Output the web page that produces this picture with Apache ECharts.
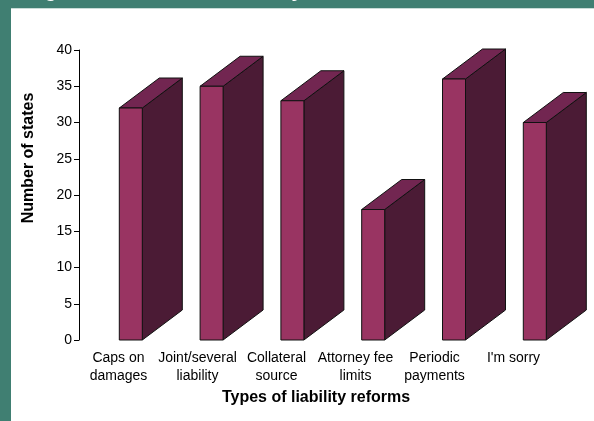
<!DOCTYPE html>
<html>
<head>
<meta charset="utf-8">
<script src="https://cdn.jsdelivr.net/npm/echarts@6/dist/echarts.min.js"></script>
<style>html,body{margin:0;padding:0;background:#fff}#c{width:594px;height:421px}</style>
</head>
<body>
<div id="c"></div>
<script>
const categories = ['Caps on\ndamages', 'Joint/several\nliability', 'Collateral\nsource', 'Attorney fee\nlimits', 'Periodic\npayments', "I'm sorry"];
const states = [32, 35, 33, 18, 36, 30];
const yTicks = { min: 0, max: 40, interval: 5 };
const titleText = 'Figure 1. States with Liability Reforms';
const xName = 'Types of liability reforms';
const yName = 'Number of states';

const FONT = 'Liberation Sans, Arial, Helvetica, sans-serif';
const FRONT_W = 23, DX = 40, DY = 30;

const chart = echarts.init(document.getElementById('c'), null, { renderer: 'canvas' });

function renderBar(params, api) {
  const top = api.coord([api.value(0), api.value(1)]);
  const base = api.coord([api.value(0), 0]);
  const x0 = top[0] - FRONT_W / 2, x1 = top[0] + FRONT_W / 2;
  const yt = top[1], yb = base[1];
  const stroke = { stroke: '#111', lineWidth: 1 };
  return {
    type: 'group',
    children: [
      { type: 'polygon', shape: { points: [[x1, yt], [x1 + DX, yt - DY], [x1 + DX, yb - DY], [x1, yb]] },
        style: Object.assign({ fill: '#4b1b35' }, stroke) },
      { type: 'polygon', shape: { points: [[x0, yt], [x0 + DX, yt - DY], [x1 + DX, yt - DY], [x1, yt]] },
        style: Object.assign({ fill: '#722651' }, stroke) },
      { type: 'rect', shape: { x: x0, y: yt, width: FRONT_W, height: yb - yt },
        style: Object.assign({ fill: '#993462' }, stroke) }
    ]
  };
}

chart.setOption({
  animation: false,
  backgroundColor: '#407f72',
  graphic: [
    { type: 'rect', z: -10, shape: { x: 11, y: 8, width: 600, height: 1 }, style: { fill: '#c9dcd7' } },
    { type: 'rect', z: -10, shape: { x: 11, y: 9, width: 600, height: 420 }, style: { fill: '#ffffff' } },
    { type: 'text', z: 10, x: 27, y: 1, style: { text: titleText, fill: '#ffffff', font: 'bold 20px ' + FONT, verticalAlign: 'bottom', align: 'left' } },
    { type: 'text', z: 10, x: 29, y: 158, rotation: Math.PI / 2,
      style: { text: yName, fill: '#000', font: 'bold 16px ' + FONT, align: 'center', verticalAlign: 'middle' } }
  ],
  grid: [
    { left: 79, top: 50, width: 474, height: 290 },
    { left: 90.4, top: 50, width: 484.8, height: 290 }
  ],
  xAxis: [
    {
      gridIndex: 0, type: 'category', data: categories,
      axisLine: { show: false }, axisTick: { show: false },
      axisLabel: { interval: 0, fontSize: 14, lineHeight: 18, margin: 9, color: '#000', fontFamily: FONT },
      name: xName, nameLocation: 'middle', nameGap: 50,
      nameTextStyle: { fontSize: 16, fontWeight: 'bold', color: '#000', fontFamily: FONT }
    },
    { gridIndex: 1, type: 'category', data: categories, show: false }
  ],
  yAxis: [
    {
      gridIndex: 0, type: 'value', min: yTicks.min, max: yTicks.max, interval: yTicks.interval,
      axisLine: { show: true, lineStyle: { color: '#000', width: 1 } },
      axisTick: { show: true, length: 5, lineStyle: { color: '#000' } },
      splitLine: { show: false },
      axisLabel: { fontSize: 14, color: '#000', margin: 7, fontFamily: FONT }
    },
    { gridIndex: 1, type: 'value', min: yTicks.min, max: yTicks.max, show: false, splitLine: { show: false } }
  ],
  series: [
    {
      type: 'custom', xAxisIndex: 1, yAxisIndex: 1,
      renderItem: renderBar,
      data: states.map((v, i) => [i, v]),
      encode: { x: 0, y: 1 }
    }
  ]
});
</script>
</body>
</html>
